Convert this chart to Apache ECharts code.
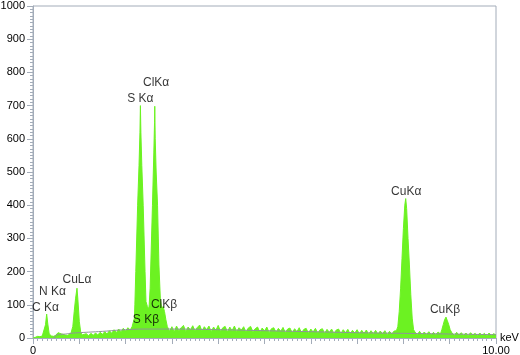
<!DOCTYPE html>
<html>
<head>
<meta charset="utf-8">
<script src="https://cdn.jsdelivr.net/npm/echarts@6/dist/echarts.min.js"></script>
<style>html,body{margin:0;padding:0;background:#fff}#c{width:520px;height:355px}</style>
</head>
<body>
<div id="c"></div>
<script>
// Spectrum (energy in keV, counts)
var energy = [
0.00,0.05,0.10,0.15,0.20,0.24,0.27,0.295,0.32,0.35,0.40,0.45,0.50,0.54,0.58,0.62,0.66,0.70,0.75,0.82,0.86,0.89,0.92,0.95,0.97,1.00,1.03,1.06,
1.10,1.15,1.20,1.25,1.30,1.35,1.40,1.45,1.50,1.55,1.60,1.65,1.70,1.75,1.80,1.85,1.90,1.95,2.00,2.05,2.10,2.14,
2.17,2.19,2.20,2.22,2.26,2.29,2.31,2.32,2.33,2.35,2.38,2.42,2.44,2.47,2.50,
2.51,2.53,2.55,2.58,2.61,2.625,2.63,2.64,2.66,2.69,2.72,2.75,2.78,2.81,2.84,2.87,2.90,
2.95,3.00,3.05,3.10,3.15,3.20,3.25,3.30,3.35,3.40,3.45,3.50,3.55,3.60,3.65,3.70,3.75,3.80,3.85,3.90,3.95,4.00,4.05,4.10,4.15,4.20,4.25,4.30,4.35,4.40,4.45,4.50,4.55,4.60,4.65,4.70,4.75,4.80,4.85,4.90,4.95,
5.00,5.05,5.10,5.15,5.20,5.25,5.30,5.35,5.40,5.45,5.50,5.55,5.60,5.65,5.70,5.75,5.80,5.85,5.90,5.95,6.00,6.05,6.10,6.15,6.20,6.25,6.30,6.35,6.40,6.45,6.50,6.55,6.60,6.65,6.70,6.75,6.80,6.85,6.90,6.95,
7.00,7.05,7.10,7.15,7.20,7.25,7.30,7.35,7.40,7.45,7.50,7.55,7.60,7.65,7.70,7.75,7.80,7.85,
7.88,7.91,7.94,7.97,8.00,8.03,8.05,8.07,8.10,8.13,8.16,8.19,8.22,
8.25,8.30,8.35,8.40,8.45,8.50,8.55,8.60,8.65,8.70,8.75,8.80,
8.83,8.86,8.89,8.92,8.95,8.98,9.01,
9.05,9.10,9.15,9.20,9.25,9.30,9.35,9.40,9.45,9.50,9.55,9.60,9.65,9.70,9.75,9.80,9.85,9.90,9.95,10.00
];
var counts = [
0,2,5,4,6,12,40,72,42,12,6,5,9,16,21,12,7,9,8,14,35,80,120,150,115,50,18,9,
6,13,7,14,8,15,9,17,11,19,12,22,14,25,16,27,19,29,21,31,24,34,
40,60,100,200,400,520,620,700,620,520,400,200,110,95,88,
100,150,250,400,560,650,698,600,500,400,220,120,88,95,80,55,35,
20,34,18,36,22,31,38,19,33,24,37,21,32,39,20,34,25,36,19,33,23,38,20,31,35,18,33,22,36,19,31,24,34,17,30,35,19,28,33,17,30,
21,33,16,28,31,17,29,20,32,16,27,30,15,28,19,31,15,26,29,14,27,18,29,14,25,28,14,26,17,27,13,24,27,13,25,16,26,12,23,15,
25,12,23,14,24,11,22,13,23,11,21,13,22,10,20,12,21,22,
35,80,150,240,330,400,420,390,300,220,130,60,25,
18,10,20,9,18,11,19,9,17,10,18,12,
25,40,55,63,52,40,25,
15,8,17,9,16,8,15,7,16,9,14,7,15,8,14,6,15,8,13,9
];
// Fitted background (gray curve)
var bgEnergy = [0.45,0.50,0.60,0.70,0.80,1.00,1.50,2.00,2.50,3.00,4.00,5.00,6.00,7.00,8.00,9.00,10.00];
var bgCounts = [0,8,11,12,14,16,20,25,27,27,25,22,19,16,14,12,10];
// Peak labels (anchor energy, anchor counts)
var peakNames = ['C K\u03b1','N K\u03b1','CuL\u03b1','S K\u03b1','ClK\u03b1','S K\u03b2','ClK\u03b2','CuK\u03b1','CuK\u03b2'];
var peakE = [0.27,0.42,0.95,2.32,2.66,2.44,2.83,8.06,8.90];
var peakC = [92,138,177,722,768,56,99,440,85];
// Axis
var yTicks = [0,100,200,300,400,500,600,700,800,900,1000];
var xTickLabels = {0:'0',10:'10.00'};

var chart = echarts.init(document.getElementById('c'));
var spec = energy.map(function(e,i){return [e,counts[i]];});
var bg = bgEnergy.map(function(e,i){return [e,bgCounts[i]];});
var lbl = peakE.map(function(e,i){return {value:[e,peakC[i]],name:peakNames[i]};});
var green = '#6cf222';
var axisGray = '#a3acb9';
chart.setOption({
  animation:false,
  grid:{left:33,right:24,top:6,bottom:17,containLabel:false,outerBoundsMode:'none',
    show:true,borderColor:axisGray,borderWidth:1,backgroundColor:'transparent'},
  xAxis:{type:'value',min:0,max:10,interval:1,
    name:'keV',nameLocation:'end',nameGap:4,
    nameTextStyle:{fontFamily:'Liberation Sans',fontSize:11,color:'#000',verticalAlign:'middle',padding:[0,0,8,0]},
    axisLine:{show:true,lineStyle:{color:axisGray}},
    axisTick:{show:true,length:6,lineStyle:{color:axisGray}},
    minorTick:{show:true,splitNumber:10,length:3,lineStyle:{color:axisGray}},
    splitLine:{show:false},
    axisLabel:{fontFamily:'Liberation Sans',fontSize:11,color:'#000',margin:7,
      formatter:function(v){return xTickLabels[v]!==undefined?xTickLabels[v]:'';}}
  },
  yAxis:{type:'value',min:yTicks[0],max:yTicks[yTicks.length-1],interval:100,
    axisLine:{show:true,lineStyle:{color:axisGray}},
    axisTick:{show:true,length:6,lineStyle:{color:axisGray}},
    minorTick:{show:true,splitNumber:10,length:3,lineStyle:{color:axisGray}},
    splitLine:{show:false},
    axisLabel:{fontFamily:'Liberation Sans',fontSize:11,color:'#000',margin:8,
      formatter:function(v){return String(v);}}
  },
  series:[
    {type:'line',data:spec,symbol:'none',lineStyle:{color:green,width:1},
     areaStyle:{color:green,opacity:1},z:2},
    {type:'line',data:bg,symbol:'none',smooth:true,lineStyle:{color:'#8f9499',width:1},z:3},
    {type:'scatter',data:lbl,symbolSize:0,z:5,
     label:{show:true,position:'inside',formatter:'{b}',fontFamily:'Liberation Sans',fontSize:12,color:'#000'}}
  ]
});
</script>
</body>
</html>
